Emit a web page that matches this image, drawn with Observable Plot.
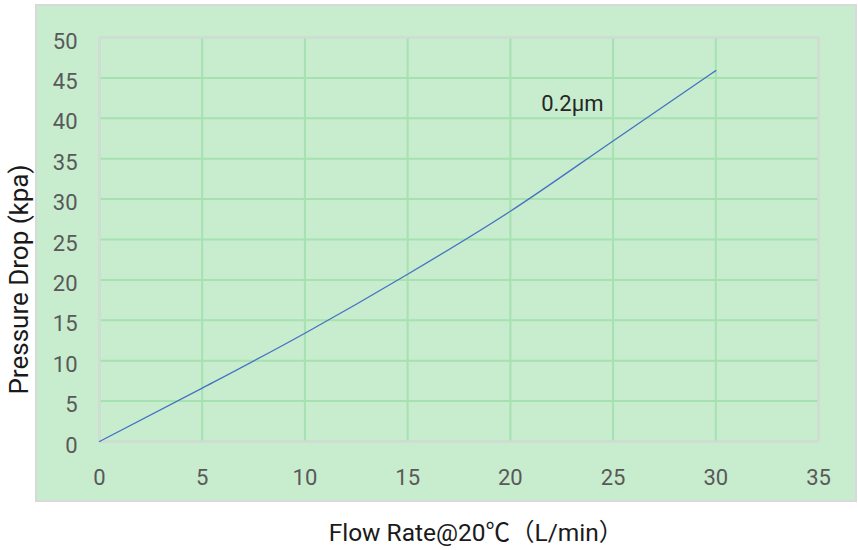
<!DOCTYPE html>
<html><head><meta charset="utf-8">
<script src="https://cdn.jsdelivr.net/npm/d3@7"></script>
<script src="https://cdn.jsdelivr.net/npm/@observablehq/plot@0.6"></script>
<style>
body{margin:0;background:#fff;}
#wrap{position:relative;width:858px;height:550px;overflow:hidden;}
#panel{position:absolute;left:35px;top:4px;width:822px;height:498px;background:#c8ecce;border:2px solid #d9d9d9;box-sizing:border-box;}
#chart{position:absolute;left:0;top:0;}
</style></head>
<body><div id="wrap"><div id="panel"></div><div id="chart"></div></div>
<script>
const flowRate = [0, 5, 10, 15, 20, 25, 30];
const pressureDrop = [0, 6.6, 13.4, 20.7, 28.5, 37.2, 45.9];
const xTicks = [0, 5, 10, 15, 20, 25, 30, 35];
const yTicks = [0, 5, 10, 15, 20, 25, 30, 35, 40, 45, 50];
const seriesName = "0.2μm";
const seriesLabelPos = [21.5, 41.8];
const xTitle = "Flow Rate@20℃（L/min）";
const yTitle = "Pressure Drop (kpa)";

const data = flowRate.map((x, i) => ({x, y: pressureDrop[i]}));
const font = "Roboto, 'Noto Sans CJK SC', sans-serif";

const chart = Plot.plot({
  width: 858,
  height: 550,
  marginLeft: 99,
  marginRight: 40,
  marginTop: 37,
  marginBottom: 109,
  style: {background: "transparent", fontFamily: font, overflow: "visible"},
  x: {domain: [0, 35], ticks: xTicks},
  y: {domain: [0, 50], ticks: yTicks},
  marks: [
    Plot.gridX(xTicks, {stroke: "#a6e1b1", strokeOpacity: 1, strokeWidth: 2}),
    Plot.gridY(yTicks, {stroke: "#a6e1b1", strokeOpacity: 1, strokeWidth: 2}),
    Plot.frame({stroke: "#d9d9d9", strokeWidth: 2}),
    Plot.axisX(xTicks, {tickSize: 0, tickPadding: 28, fontSize: 22, fill: "#595959", label: null}),
    Plot.axisY(yTicks, {tickSize: 0, tickPadding: 22, fontSize: 22, fill: "#595959", label: null, dy: 4}),
    Plot.line(data, {x: "x", y: "y", stroke: "#4472c4", strokeWidth: 1.3, curve: "monotone-x"}),
    Plot.text([seriesName], {x: seriesLabelPos[0], y: seriesLabelPos[1], text: d => d, textAnchor: "start", fontSize: 22, fill: "#262626"}),
    Plot.text([xTitle], {frameAnchor: "bottom", text: d => d, textAnchor: "middle", lineAnchor: "middle", dy: 92, dx: 17, fontSize: 24.5, fill: "#1a1a1a"}),
    Plot.text([yTitle], {frameAnchor: "left", text: d => d, textAnchor: "middle", lineAnchor: "middle", rotate: -90, dx: -80, dy: 40, fontSize: 26, fill: "#1a1a1a"})
  ]
});
document.getElementById("chart").appendChild(chart);
</script>
</body></html>
